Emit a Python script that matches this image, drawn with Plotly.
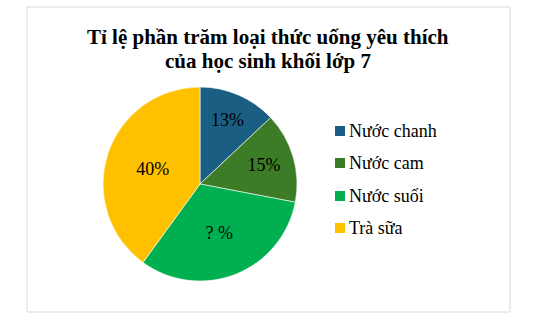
import plotly.graph_objects as go

labels = ["Nước chanh", "Nước cam", "Nước suối", "Trà sữa"]
values = [13, 15, 32, 40]
texts = ["13%", "15%", "? %", "40%"]
colors = ["#1b5e84", "#3d7c26", "#00b050", "#ffc000"]

W, H = 542, 322
SERIF = "Liberation Serif, Times New Roman, DejaVu Serif, serif"
def px(x): return x / W
def py(y): return 1 - y / H

fig = go.Figure()
fig.add_trace(go.Pie(
    labels=labels, values=values, text=texts,
    textinfo="text", textposition="inside", insidetextorientation="horizontal",
    sort=False, direction="clockwise", rotation=0,
    marker=dict(colors=colors, line=dict(color="#ffffff", width=0.6)),
    textfont=dict(family=SERIF, size=18, color="#000000"),
    domain=dict(x=[px(103), px(297)], y=[py(281), py(87)]),
    showlegend=False, hoverinfo="label+percent",
))

shapes = [dict(type="rect", xref="paper", yref="paper",
               x0=px(27), x1=px(510), y0=py(312), y1=py(7),
               line=dict(color="#d9d9d9", width=1), fillcolor="rgba(0,0,0,0)")]
annotations = [
    dict(text="<b>Tỉ lệ phần trăm loại thức uống yêu thích</b>", x=px(268), y=py(37),
         xref="paper", yref="paper", showarrow=False, xanchor="center", yanchor="middle",
         font=dict(family=SERIF, size=21, color="#000")),
    dict(text="<b>của học sinh khối lớp 7</b>", x=px(268), y=py(61),
         xref="paper", yref="paper", showarrow=False, xanchor="center", yanchor="middle",
         font=dict(family=SERIF, size=21, color="#000")),
]
leg_y = [131, 163, 196, 228]
for lab, col, yy in zip(labels, colors, leg_y):
    shapes.append(dict(type="rect", xref="paper", yref="paper",
                       x0=px(335), x1=px(345), y0=py(yy + 5), y1=py(yy - 5),
                       line=dict(width=0), fillcolor=col))
    annotations.append(dict(text=lab, x=px(347), y=py(yy), xref="paper", yref="paper",
                            showarrow=False, xanchor="left", yanchor="middle",
                            font=dict(family=SERIF, size=18, color="#000")))

fig.update_layout(width=W, height=H, margin=dict(l=0, r=0, t=0, b=0),
                  paper_bgcolor="white", plot_bgcolor="white",
                  shapes=shapes, annotations=annotations)
fig.write_html("out.html")
